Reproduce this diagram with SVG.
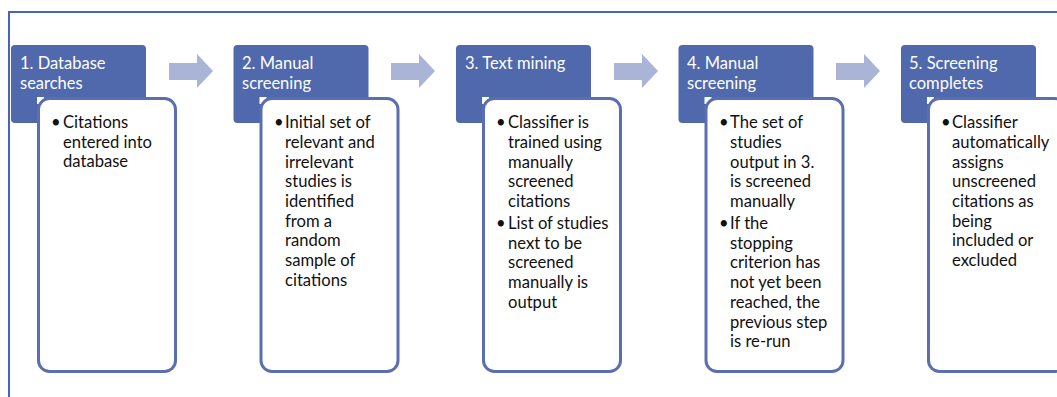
<svg xmlns="http://www.w3.org/2000/svg" width="1057" height="397" viewBox="0 0 1057 397">
<style>
.hdr{fill:#5069ad;}
.hdrt{fill:#ffffff;font-family:Lato,"Liberation Sans",sans-serif;font-size:16.5px;}
.box{fill:#ffffff;stroke:#5a6eb0;stroke-width:3;}
.txt{fill:#111111;font-family:Lato,"Liberation Sans",sans-serif;font-size:16.6px;}
.arr{fill:#a9b4d6;}
.notch{fill:#ffffff;}
</style>
<rect width="1057" height="397" fill="#ffffff"/>
<path d="M9,397 V12 H1057" fill="none" stroke="#4a62b8" stroke-width="2"/>
<g id="connectors">
<path class="arr" d="M169,63 H197 V54 L213,71 L197,88 V80 H169 Z"/>
<path class="arr" d="M391,63 H419 V54 L435,71 L419,88 V80 H391 Z"/>
<path class="arr" d="M614,63 H642 V54 L658,71 L642,88 V80 H614 Z"/>
<path class="arr" d="M836,63 H864 V54 L880,71 L864,88 V80 H836 Z"/>
</g>
<g id="step1">
<rect class="hdr" x="11" y="45" width="135" height="78" rx="4"/>
<text class="hdrt" x="20" y="69">1. Database</text>
<text class="hdrt" x="20" y="89">searches</text>
<rect class="notch" x="37" y="97" width="7" height="7"/>
<rect class="box" x="38.5" y="98.5" width="137" height="273" rx="11"/>
<text class="txt"><tspan x="51" y="128">•</tspan><tspan x="63" y="128">Citations</tspan><tspan x="63" y="148">entered into</tspan><tspan x="63" y="167">database</tspan></text>
</g>
<g id="step2">
<rect class="hdr" x="233.5" y="45" width="135" height="78" rx="4"/>
<text class="hdrt" x="242" y="69">2. Manual</text>
<text class="hdrt" x="242" y="89">screening</text>
<rect class="notch" x="259.5" y="97" width="7" height="7"/>
<rect class="box" x="261" y="98.5" width="137" height="273" rx="11"/>
<text class="txt"><tspan x="274" y="128">•</tspan><tspan x="285" y="128">Initial set of</tspan><tspan x="285" y="148">relevant and</tspan><tspan x="285" y="167.5">irrelevant</tspan><tspan x="285" y="187">studies is</tspan><tspan x="285" y="207">identified</tspan><tspan x="285" y="226.5">from a</tspan><tspan x="285" y="246">random</tspan><tspan x="285" y="266">sample of</tspan><tspan x="285" y="285.5">citations</tspan></text>
</g>
<g id="step3">
<rect class="hdr" x="456" y="45" width="135" height="78" rx="4"/>
<text class="hdrt" x="465" y="69">3. Text mining</text>
<rect class="notch" x="482" y="97" width="7" height="7"/>
<rect class="box" x="483.5" y="98.5" width="137" height="273" rx="11"/>
<text class="txt"><tspan x="496" y="128">•</tspan><tspan x="508" y="128">Classifier is</tspan><tspan x="508" y="148">trained using</tspan><tspan x="508" y="167.5">manually</tspan><tspan x="508" y="187">screened</tspan><tspan x="508" y="207">citations</tspan><tspan x="496" y="229">•</tspan><tspan x="508" y="229">List of studies</tspan><tspan x="508" y="248.5">next to be</tspan><tspan x="508" y="268">screened</tspan><tspan x="508" y="288">manually is</tspan><tspan x="508" y="307.5">output</tspan></text>
</g>
<g id="step4">
<rect class="hdr" x="678.5" y="45" width="135" height="78" rx="4"/>
<text class="hdrt" x="687" y="69">4. Manual</text>
<text class="hdrt" x="687" y="89">screening</text>
<rect class="notch" x="704.5" y="97" width="7" height="7"/>
<rect class="box" x="706" y="98.5" width="137" height="273" rx="11"/>
<text class="txt"><tspan x="719" y="128">•</tspan><tspan x="730" y="128">The set of</tspan><tspan x="730" y="148">studies</tspan><tspan x="730" y="167.5">output in 3.</tspan><tspan x="730" y="187">is screened</tspan><tspan x="730" y="207">manually</tspan><tspan x="719" y="229">•</tspan><tspan x="730" y="229">If the</tspan><tspan x="730" y="248.5">stopping</tspan><tspan x="730" y="268">criterion has</tspan><tspan x="730" y="288">not yet been</tspan><tspan x="730" y="307.5">reached, the</tspan><tspan x="730" y="327.5">previous step</tspan><tspan x="730" y="347">is re-run</tspan></text>
</g>
<g id="step5">
<rect class="hdr" x="901" y="45" width="135" height="78" rx="4"/>
<text class="hdrt" x="909" y="69">5. Screening</text>
<text class="hdrt" x="909" y="89">completes</text>
<rect class="notch" x="927" y="97" width="7" height="7"/>
<rect class="box" x="928.5" y="98.5" width="137" height="273" rx="11"/>
<text class="txt"><tspan x="941" y="128">•</tspan><tspan x="952" y="128">Classifier</tspan><tspan x="952" y="148">automatically</tspan><tspan x="952" y="167.5">assigns</tspan><tspan x="952" y="187">unscreened</tspan><tspan x="952" y="207">citations as</tspan><tspan x="952" y="226.5">being</tspan><tspan x="952" y="246">included or</tspan><tspan x="952" y="266">excluded</tspan></text>
</g>
</svg>
